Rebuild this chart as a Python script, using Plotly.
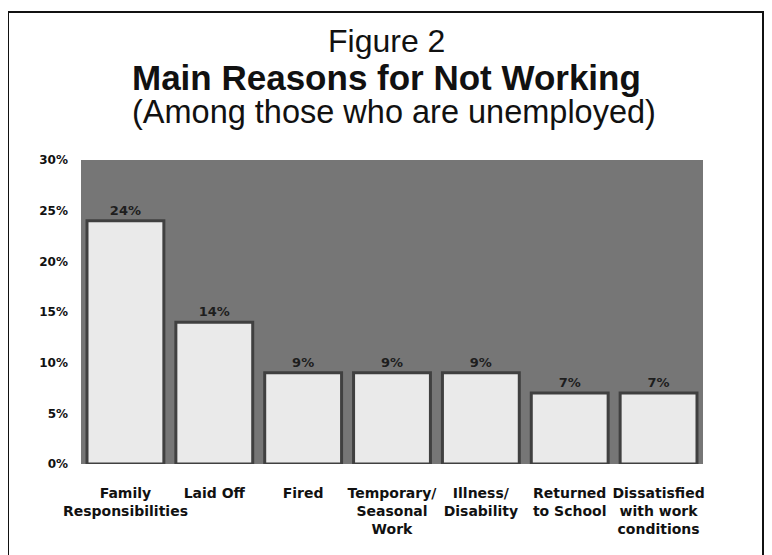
import plotly.graph_objects as go

categories = ["Family<br>Responsibilities", "Laid Off", "Fired", "Temporary/<br>Seasonal<br>Work",
              "Illness/<br>Disability", "Returned<br>to School", "Dissatisfied<br>with work<br>conditions"]
values = [24, 14, 9, 9, 9, 7, 7]
value_labels = ["24%", "14%", "9%", "9%", "9%", "7%", "7%"]
y_ticks = [0, 5, 10, 15, 20, 25, 30]
y_tick_labels = ["0%", "5%", "10%", "15%", "20%", "25%", "30%"]

W, H = 772, 555
OFF = 8  # page body margin
L, T = 81 - OFF, 160 - OFF
pw, ph = 622, 304
R, B = W - L - pw, H - T - ph

def px(x):
    return (x - OFF - L) / pw

def py(y):
    return (T + ph - (y - OFF)) / ph

fig = go.Figure(go.Bar(
    x=categories, y=values,
    text=value_labels, textposition="outside",
    textfont=dict(family="DejaVu Sans", size=13, color="#1e1e1e", weight="bold"),
    marker=dict(color="#eaeaea", line=dict(color="#404040", width=3)),
    cliponaxis=False,
))

fig.update_layout(
    width=W, height=H,
    margin=dict(l=L, r=R, t=T, b=B, autoexpand=False),
    paper_bgcolor="white", plot_bgcolor="#767676",
    bargap=0.135, showlegend=False,
    font=dict(family="DejaVu Sans", color="#111"),
    xaxis=dict(tickfont=dict(family="DejaVu Sans", size=14, color="#111", weight="bold"),
               showgrid=False, ticks="", ticklabelstandoff=19, tickangle=0),
    yaxis=dict(range=[0, 30], tickvals=y_ticks, ticktext=y_tick_labels, showgrid=False,
               zeroline=False, ticks="", ticklabelstandoff=12,
               tickfont=dict(family="DejaVu Sans", size=12, color="#111", weight="bold")),
    shapes=[dict(type="rect", xref="paper", yref="paper",
                 x0=px(8), x1=px(763), y0=py(580), y1=py(12),
                 line=dict(color="#111", width=2), fillcolor="rgba(0,0,0,0)", layer="below")],
    annotations=[
        dict(text="Figure 2", xref="paper", yref="paper", x=px(386), y=py(41),
             xanchor="center", yanchor="middle", showarrow=False,
             font=dict(family="Liberation Sans", size=32, color="#111")),
        dict(text="<b>Main Reasons for Not Working</b>", xref="paper", yref="paper", x=px(386), y=py(77),
             xanchor="center", yanchor="middle", showarrow=False,
             font=dict(family="Liberation Sans", size=35, color="#111")),
        dict(text="(Among those who are unemployed)", xref="paper", yref="paper", x=px(394), y=py(112),
             xanchor="center", yanchor="middle", showarrow=False,
             font=dict(family="Liberation Sans", size=32.5, color="#111")),
    ],
)

fig.write_html("out.html")
